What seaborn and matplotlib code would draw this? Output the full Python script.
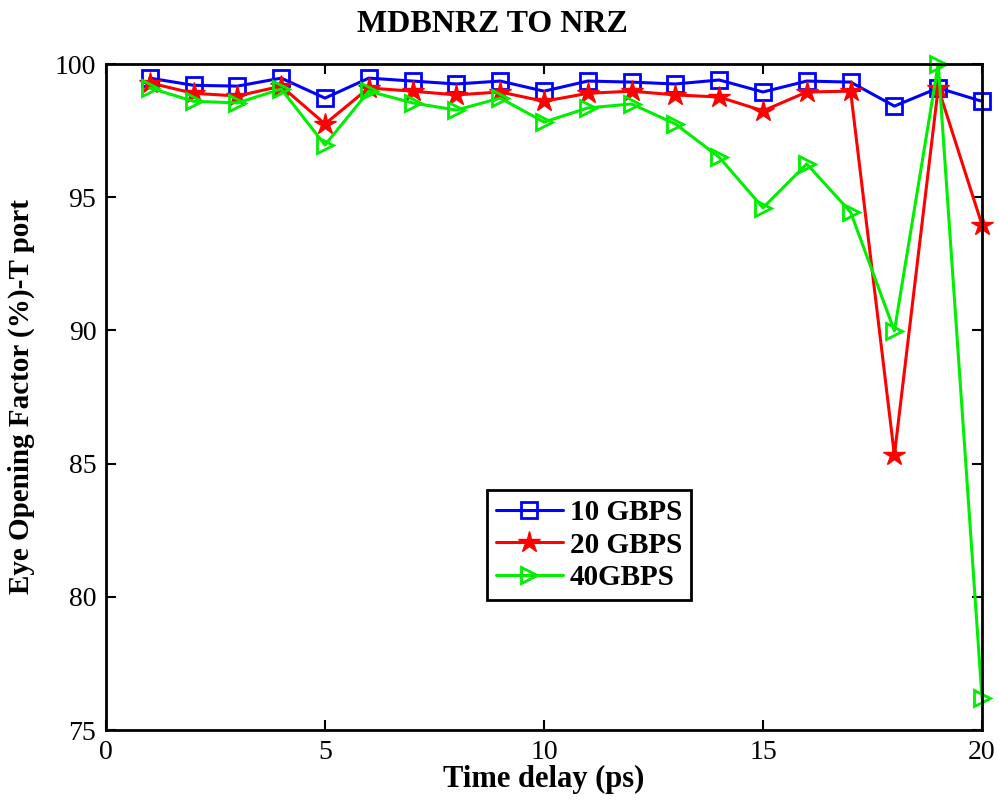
import matplotlib
matplotlib.use("Agg")
import matplotlib.pyplot as plt
import seaborn as sns
import pandas as pd

delay = list(range(1, 21))
gbps10 = [99.47, 99.2, 99.17, 99.47, 98.72, 99.47, 99.36, 99.25, 99.36, 98.98,
          99.36, 99.32, 99.25, 99.4, 98.95, 99.36, 99.32, 98.42, 99.1, 98.6]
gbps20 = [99.29, 98.9, 98.8, 99.17, 97.75, 99.1, 98.98, 98.84, 98.95, 98.6,
          98.9, 98.98, 98.84, 98.76, 98.24, 98.95, 98.98, 85.32, 99.1, 93.96]
gbps40 = [99.1, 98.6, 98.54, 99.06, 96.96, 98.98, 98.54, 98.27, 98.72, 97.82,
          98.35, 98.5, 97.75, 96.5, 94.6, 96.25, 94.44, 89.98, 100.0, 76.2]
labels = ["10 GBPS", "20 GBPS", "40GBPS"]
colors = ["#0000ff", "#ff0000", "#00ee00"]
markers = ["s", "*", ">"]
msizes = [11, 16, 12]

sns.set_theme(style="white")
plt.rcParams["font.family"] = ["Liberation Serif", "DejaVu Serif"]
plt.rcParams["text.color"] = "black"
plt.rcParams["axes.labelcolor"] = "black"
plt.rcParams["xtick.color"] = "black"
plt.rcParams["ytick.color"] = "black"

fig = plt.figure(figsize=(9.99, 8.0), dpi=100)
ax = fig.add_axes([106/999, 1 - 730/800, (982-106)/999, (730-64)/800])

for vals, lab, col, mk, ms in zip([gbps10, gbps20, gbps40], labels, colors, markers, msizes):
    df = pd.DataFrame({"x": delay, "y": vals})
    filled = mk == "*"
    sns.lineplot(data=df, x="x", y="y", ax=ax, color=col, lw=2.2, label=lab,
                 marker=mk, markersize=ms,
                 markerfacecolor=(col if filled else "none"),
                 markeredgecolor=col, markeredgewidth=(1 if filled else 2.0),
                 clip_on=False)

ax.set_xlim(0, 20)
ax.set_ylim(75, 100)
ax.set_xticks([0, 5, 10, 15, 20])
ax.set_yticks([75, 80, 85, 90, 95, 100])
ax.tick_params(direction="in", length=7, width=1.5, labelsize=20, top=True, right=True,
               bottom=True, left=True, pad=7)
for s in ax.spines.values():
    s.set_linewidth(2.0)
    s.set_color("black")
ax.set_xlabel("Time delay (ps)", fontsize=22, fontweight="bold", labelpad=0)
ax.set_ylabel("Eye Opening Factor (%)-T port", fontsize=21, fontweight="bold", labelpad=14)
ax.set_title("MDBNRZ TO NRZ", fontsize=23, fontweight="bold", pad=23, x=(492-106)/876)

leg = ax.legend(loc="upper left", bbox_to_anchor=((487-106)/876, (730-490)/666),
                frameon=True, fancybox=False, edgecolor="black",
                handlelength=2.3, handletextpad=0.25, borderpad=0.3, labelspacing=0.2,
                borderaxespad=0, prop={"weight": "bold", "size": 21})
leg.get_frame().set_linewidth(2.0)
leg.get_frame().set_alpha(1)

fig.savefig("out.png", dpi=100)
